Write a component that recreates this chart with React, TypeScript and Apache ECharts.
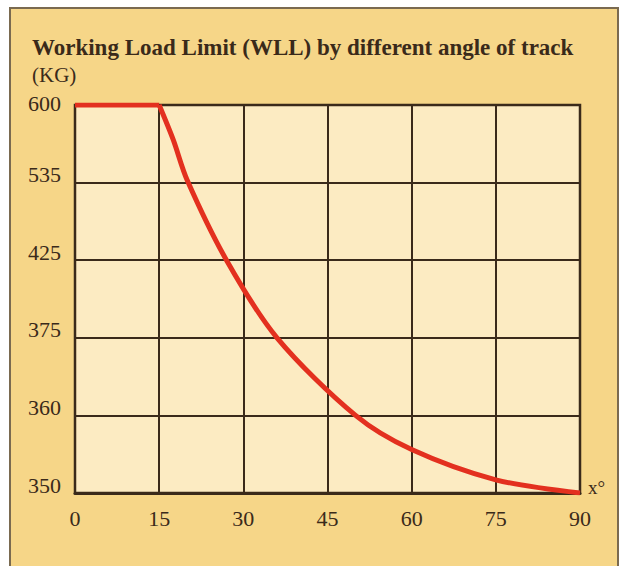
import React, { useEffect, useRef } from "react";
import * as echarts from "echarts";

const titleText = "Working Load Limit (WLL) by different angle of track";
const unitText = "(KG)";
const xTicks = [0, 15, 30, 45, 60, 75, 90];
const yTickLabels = [350, 360, 375, 425, 535, 600];
const angles = [0, 15, 17.5, 20, 27, 36, 50, 60, 75, 90];
const loads = [600, 600, 571, 537, 425, 375, 360, 355.6, 351.7, 350];

// map a kg value onto the evenly spaced (non-linear) tick positions
function kgToPos(v: number): number {
  for (let i = 0; i < yTickLabels.length - 1; i++) {
    const a = yTickLabels[i];
    const b = yTickLabels[i + 1];
    if (v >= a && v <= b) return i + (v - a) / (b - a);
  }
  return v < yTickLabels[0] ? 0 : yTickLabels.length - 1;
}

const ink = "#3a2a1a";
const font = "'Liberation Serif', 'Times New Roman', serif";
const red = "#e3301f";

export default function App() {
  const ref = useRef<HTMLDivElement>(null);
  useEffect(() => {
    if (!ref.current) return;
    const chart = echarts.init(ref.current, undefined, { renderer: "svg" });
    const pts = angles.map((a, i) => [a, kgToPos(loads[i])]);
    chart.setOption({
      animation: false,
      backgroundColor: "#ffffff",
      graphic: [
        {
          type: "rect",
          z: -10,
          shape: { x: 10, y: 8, width: 608, height: 580 },
          style: { fill: "#f6d688", stroke: "#7a6a50", lineWidth: 2 },
        },
        {
          type: "text",
          left: 32,
          top: 36,
          style: {
            text: titleText,
            font: `bold 23px ${font}`,
            fill: ink,
          },
        },
        {
          type: "text",
          left: 32,
          top: 64,
          style: { text: unitText, font: `21px ${font}`, fill: ink },
        },
        {
          type: "text",
          left: 588,
          top: 478,
          style: { text: "x°", font: `19px ${font}`, fill: ink },
        },
      ],
      grid: {
        left: 75,
        right: 43,
        top: 105,
        bottom: 73,
        show: true,
        backgroundColor: "#fcebc2",
        borderColor: ink,
        borderWidth: 2.5,
      },
      xAxis: {
        type: "value",
        min: 0,
        max: 90,
        interval: 15,
        axisLine: { show: true, lineStyle: { color: ink, width: 3 } },
        axisTick: { show: false },
        splitLine: { show: true, lineStyle: { color: ink, width: 2 } },
        axisLabel: {
          margin: 14,
          fontFamily: font,
          fontSize: 22,
          color: ink,
          formatter: (v: number) => (xTicks.includes(v) ? String(v) : ""),
        },
      },
      yAxis: {
        type: "value",
        min: 0,
        max: 5,
        interval: 1,
        axisLine: { show: false },
        axisTick: { show: false },
        splitLine: { show: true, lineStyle: { color: ink, width: 2 } },
        axisLabel: {
          margin: 14,
          color: ink,
          verticalAlign: "bottom",
          formatter: (v: number) => {
            const i = Math.round(v);
            const t = String(yTickLabels[i] ?? "");
            return i === yTickLabels.length - 1 ? `{t|${t}}` : `{b|${t}}`;
          },
          rich: {
            t: { fontFamily: font, fontSize: 22, color: ink, lineHeight: 4 },
            b: { fontFamily: font, fontSize: 22, color: ink, lineHeight: 16 },
          },
        },
      },
      series: [
        {
          type: "line",
          data: pts.slice(0, 2),
          symbol: "none",
          lineStyle: { color: red, width: 5 },
          z: 5,
        },
        {
          type: "line",
          data: pts.slice(1),
          smooth: 0.3,
          symbol: "none",
          lineStyle: { color: red, width: 5 },
          z: 5,
        },
      ],
    });
    return () => chart.dispose();
  }, []);
  return (
    <div
      ref={ref}
      style={{ position: "absolute", left: 0, top: 0, width: 623, height: 566 }}
    />
  );
}
